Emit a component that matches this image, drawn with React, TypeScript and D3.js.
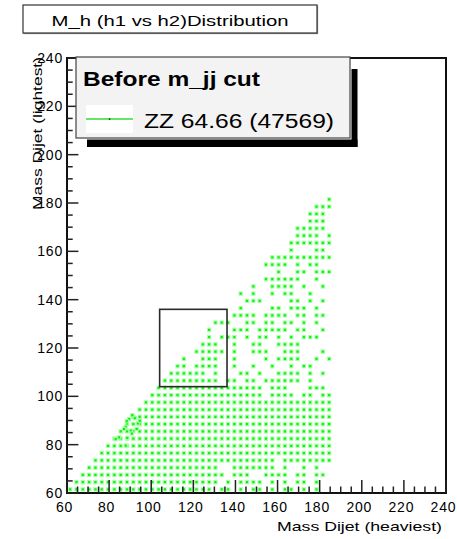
import React from "react";
import * as d3 from "d3";

const W = 457;
const H = 539;

// axis ranges and ticks
const xDomain: [number, number] = [60, 240];
const yDomain: [number, number] = [60, 240];
const xTickValues = [60, 80, 100, 120, 140, 160, 180, 200, 220, 240];
const yTickValues = [60, 80, 100, 120, 140, 160, 180, 200, 220, 240];
const minorStep = 5;

// 2D histogram binning (3 GeV bins starting at 60)
const binOrigin = 60;
const binWidth = 3;

// filled bins, one string per y-bin (bottom row first), one char per x-bin
const occupancy: string[] = [
  "########## ########## ###.##.#.# #.#.##.#.# ..",
  ".######### ########## ####.#.### #.#.#.##.# ..",
  "..######## ########## #####.###. .####.##.# #.",
  "...####### ########## ####..#### ###.#..#.# ..",
  "....###### ########## ########## ###.###### ##",
  ".....##### ########## ########## ########## ##",
  "......#### ########## ########## ########## ##",
  ".......### ########## ########## ########## ##",
  "........## ########## ########## ########## ##",
  ".........# ########## ########## ########## ##",
  ".......... ########## ########## ########## ##",
  ".......... .######### ########## ########## ##",
  ".......... ..######## ########## ########## ##",
  ".......... ...####### ########## #.####.##. ##",
  ".......... ....###### ########## #.###...## #.",
  ".......... .....##### ####.##.## .######.#. ..",
  ".......... ......#### ##.#...##. #..####.#. #.",
  ".......... .......##. ####..#..# ..#..#.##. ..",
  ".......... ........#. .###..#... .#.####..# .#",
  ".......... .......... #####.#..# ##..###... #.",
  ".......... .......... .###..#..# #..####... ..",
  ".......... .......... ..#.###.#. ##.#.#.### ..",
  ".......... .......... ..#...###. #####.##.. #.",
  ".......... .......... ...###..## .##.##.#.# ..",
  ".......... .......... ......#### .####.##.# #.",
  ".......... .......... .......#.. ..##.###.# ..",
  ".......... .......... ........## #....##.#. #.",
  ".......... .......... .......#.# ..#.##..#. ..",
  ".......... .......... .........# ..####.#.. #.",
  ".......... .......... .......... .######..# ..",
  ".......... .......... .......... ...#..##.# ##",
  ".......... .......... .......... .####.#.## ..",
  ".......... .......... .......... ..######## ##",
  ".......... .......... .......... .....#...# #.",
  ".......... .......... .......... .....##### ##",
  ".......... .......... .......... ......#### .#",
  ".......... .......... .......... ......#### #.",
  ".......... .......... .......... ........## #.",
  ".......... .......... .......... ........## #.",
  ".......... .......... .......... .........# ##",
  ".......... .......... .......... .......... .#",
];

// extra scatter points in the high-content bins near the Z peak
const peakX = [89.5, 92.2, 93.7, 93.1, 90.3, 87.9, 88.4, 87.1, 84.7, 88.6, 87.9, 83.1, 91.0, 94.6, 90.8];
const peakY = [90.6, 91.0, 88.8, 86.5, 85.8, 87.4, 89.7, 86.5, 83.0, 82.8, 79.6, 82.3, 92.2, 89.9, 84.6];

// signal window box
const boxX: [number, number] = [104, 136];
const boxY: [number, number] = [104, 136];

const titleText = "M_h (h1 vs h2)Distribution";
const legendHeader = "Before m_jj cut";
const legendEntry = "ZZ 64.66 (47569)";
const xTitle = "Mass Dijet (heaviest)";
const yTitle = "Mass Dijet (lightest)";

const FONT = "'Liberation Sans', Arial, Helvetica, sans-serif";

export default function App() {
  const x = d3.scaleLinear().domain(xDomain).range([67, 446]);
  const y = d3.scaleLinear().domain(yDomain).range([493, 58]);

  const points: { cx: number; cy: number }[] = [];
  occupancy.forEach((rowStr, j) => {
    const row = rowStr.replace(/ /g, "");
    for (let i = 0; i < row.length; i++) {
      if (row[i] === "#") {
        points.push({
          cx: x(binOrigin + binWidth * (i + 0.5)),
          cy: y(binOrigin + binWidth * (j + 0.5)),
        });
      }
    }
  });
  peakX.forEach((v, k) => points.push({ cx: x(v), cy: y(peakY[k]) }));

  const minorX = d3.range(xDomain[0], xDomain[1] + 0.001, minorStep);
  const minorY = d3.range(yDomain[0], yDomain[1] + 0.001, minorStep);

  const legendX = 76;
  const legendY = 57;
  const legendW = 274;
  const legendH = 81;

  return (
    <svg
      width={W}
      height={H}
      style={{ position: "absolute", left: 0, top: 0, background: "#fff" }}
      fontFamily={FONT}
    >
      <rect x={0} y={0} width={W} height={H} fill="#fff" />

      {/* title box */}
      <rect x={23} y={5} width={294} height={28} fill="#fff" stroke="#333" strokeWidth={1.2} />
      <line x1={23.5} y1={33.6} x2={317.6} y2={33.6} stroke="#555" strokeWidth={1} />
      <line x1={317.6} y1={5.5} x2={317.6} y2={33.6} stroke="#555" strokeWidth={1} />
      <text x={51.5} y={26} fontSize={14} textLength={237} lengthAdjust="spacingAndGlyphs" fill="#000">
        {titleText}
      </text>

      {/* scatter bins */}
      <g>
        {points.map((p, k) => (
          <g key={k}>
            <rect x={p.cx - 2.2} y={p.cy - 2.2} width={4.4} height={4.4} fill="#a8ffa8" />
            <rect x={p.cx - 1.1} y={p.cy - 1.1} width={2.2} height={2.2} fill="#10f010" />
          </g>
        ))}
      </g>

      {/* signal window */}
      <rect
        x={x(boxX[0])}
        y={y(boxY[1])}
        width={x(boxX[1]) - x(boxX[0])}
        height={y(boxY[0]) - y(boxY[1])}
        fill="none"
        stroke="#2a2a2a"
        strokeWidth={1.6}
      />

      {/* frame */}
      <rect x={67} y={58} width={379} height={435} fill="none" stroke="#111" strokeWidth={2} />

      {/* x ticks */}
      {minorX.map((v) => {
        const major = xTickValues.includes(v);
        return (
          <line key={"xt" + v} x1={x(v)} x2={x(v)} y1={493} y2={493 - (major ? 13 : 6.5)} stroke="#222" strokeWidth={1.5} />
        );
      })}
      {/* y ticks */}
      {minorY.map((v) => {
        const major = yTickValues.includes(v);
        return (
          <line key={"yt" + v} x1={67} x2={67 + (major ? 11.4 : 5.7)} y1={y(v)} y2={y(v)} stroke="#222" strokeWidth={1.5} />
        );
      })}

      {/* axis titles */}
      <text
        transform={`translate(41.5, 57) rotate(-90)`}
        textAnchor="end"
        fontSize={13}
        textLength={153}
        lengthAdjust="spacingAndGlyphs"
        fill="#000"
      >
        {yTitle}
      </text>
      <text x={277} y={531} fontSize={13} textLength={165} lengthAdjust="spacingAndGlyphs" fill="#000">
        {xTitle}
      </text>

      {/* tick labels */}
      {xTickValues.map((v) => (
        <text key={"xl" + v} x={x(v) - 2.5} y={512} textAnchor="middle" fontSize={14} letterSpacing={0.8} fill="#000">
          {v}
        </text>
      ))}
      {yTickValues.map((v) => (
        <text key={"yl" + v} x={63} y={y(v) + 5} textAnchor="end" fontSize={14} letterSpacing={0.8} fill="#000">
          {v}
        </text>
      ))}

      {/* legend */}
      <rect x={351.5} y={69} width={6} height={78} fill="#000" />
      <rect x={87} y={139.5} width={270.5} height={7.5} fill="#000" />
      <rect x={legendX} y={legendY} width={legendW} height={legendH} fill="#f3f3f3" stroke="#444" strokeWidth={1.2} />
      <text x={83} y={86} fontSize={20} fontWeight="bold" textLength={177} lengthAdjust="spacingAndGlyphs" fill="#000">
        {legendHeader}
      </text>
      <rect x={86} y={105} width={47} height={28} fill="#fff" />
      <line x1={86} x2={133} y1={119} y2={119} stroke="#33dd33" strokeWidth={1.6} />
      <rect x={108.8} y={118.3} width={1.5} height={1.5} fill="#114411" />
      <text x={144} y={127.5} fontSize={20} textLength={190} lengthAdjust="spacingAndGlyphs" fill="#000">
        {legendEntry}
      </text>
    </svg>
  );
}
